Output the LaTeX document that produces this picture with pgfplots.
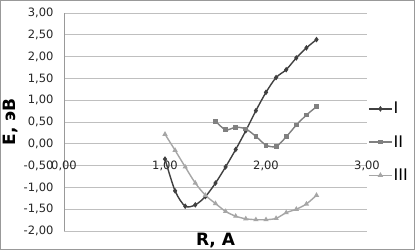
\documentclass[border=0pt]{standalone}
\usepackage{pgfplots}
\pgfplotsset{compat=1.18}
\usepackage{fontspec}
\setmainfont{DejaVu Sans}
\definecolor{sI}{HTML}{404040}
\definecolor{sII}{HTML}{808080}
\definecolor{sIII}{HTML}{A6A6A6}
\definecolor{gridc}{HTML}{BFBFBF}
\begin{document}
\begin{tikzpicture}[x=1pt,y=1pt]
\useasboundingbox (0,0) rectangle (415,250);
\fill[white] (0,0) rectangle (415,250);
\draw[gray!80, line width=1pt] (0.5,0.5) rectangle (414.5,249.5);
\begin{axis}[
  at={(64pt,19pt)}, anchor=south west,
  scale only axis, width=303pt, height=218pt,
  xmin=0, xmax=3, ymin=-2, ymax=3,
  xtick={0,1,2,3}, ytick={-2,-1.5,...,3},
  axis y line*=left, axis x line*=bottom,
  x axis line style={draw=none},
  y axis line style={draw=gridc!80!black, line width=0.8pt, -},
  ymajorgrids, grid style={draw=gridc, line width=0.8pt},
  major tick length=0pt,
  /pgf/number format/.cd, fixed, fixed zerofill, precision=2, use comma, assume math mode=true,
  /pgfplots/.cd,
  tick label style={font=\fontsize{11.5}{13}\selectfont, text=black!85},
  yticklabel style={xshift=-7pt},
  xticklabel style={anchor=center, yshift=65pt},
  xlabel={R, A}, ylabel={E, эВ},
  every axis x label/.style={at={(axis description cs:0.5,0)}, anchor=center, yshift=-10pt, font=\bfseries\fontsize{17}{19}\selectfont},
  every axis y label/.style={at={(axis description cs:-0.175,0.5)}, anchor=center, rotate=90, font=\bfseries\fontsize{17}{19}\selectfont},
  legend style={at={(rel axis cs:1,0.408)}, anchor=west, xshift=0pt, draw=none, fill=none,
    font=\fontsize{16}{18}\selectfont, row sep=18pt, inner sep=1pt,
    nodes={inner sep=1pt}},
  legend cell align=left,
  legend image code/.code={
    \draw[mark repeat=2,mark phase=2,#1] plot coordinates {(0pt,0pt) (11.5pt,0pt) (23pt,0pt)};
  },
]
\addplot[sI, line width=1.4pt, smooth, tension=0.5, mark=diamond*, mark size=1.7pt, mark options={fill=sI}]
  coordinates {(1.0,-0.35)(1.1,-1.08)(1.2,-1.43)(1.3,-1.40)(1.4,-1.21)(1.5,-0.90)(1.6,-0.53)(1.7,-0.13)(1.8,0.30)(1.9,0.76)(2.0,1.18)(2.1,1.52)(2.2,1.70)(2.3,1.97)(2.4,2.20)(2.5,2.39)};
\addlegendentry{I}
\addplot[sII, line width=1.4pt, smooth, tension=0.5, mark=square*, mark size=1.7pt, mark options={fill=sII}]
  coordinates {(1.5,0.52)(1.6,0.32)(1.7,0.38)(1.8,0.34)(1.9,0.17)(2.0,-0.03)(2.1,-0.06)(2.2,0.16)(2.3,0.43)(2.4,0.66)(2.5,0.85)};
\addlegendentry{II}
\addplot[sIII, line width=1.4pt, smooth, tension=0.5, mark=triangle*, mark size=1.7pt, mark options={fill=sIII}]
  coordinates {(1.0,0.22)(1.1,-0.15)(1.2,-0.53)(1.3,-0.90)(1.4,-1.18)(1.5,-1.37)(1.6,-1.55)(1.7,-1.66)(1.8,-1.72)(1.9,-1.74)(2.0,-1.74)(2.1,-1.71)(2.2,-1.58)(2.3,-1.50)(2.4,-1.38)(2.5,-1.18)};
\addlegendentry{III}
\end{axis}
\end{tikzpicture}
\end{document}
